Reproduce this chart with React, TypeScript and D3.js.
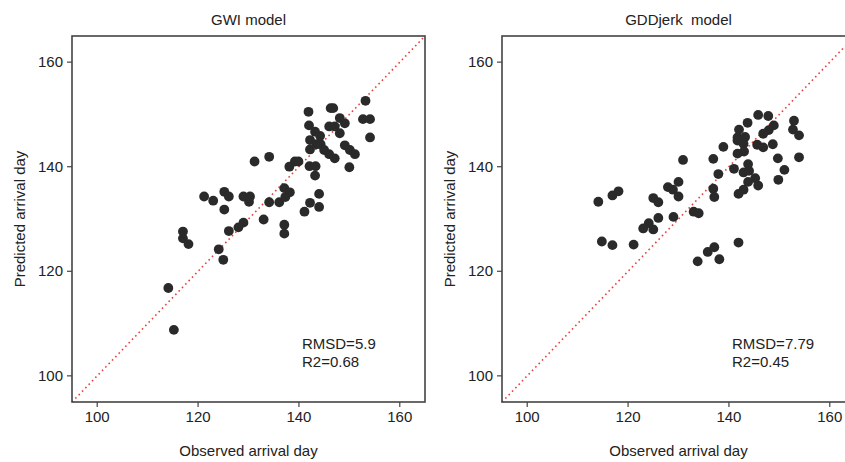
import React from "react";
import * as d3 from "d3";

const gwiObserved = [131.2,134.1,121.2,123.0,125.2,126.1,125.2,129.0,130.3,130.1,134.1,136.1,133.0,129.0,128.0,126.1,117.0,117.0,118.1,124.1,125.0,114.1,115.2,137.1,137.1,153.2,141.9,146.3,146.8,148.1,149.1,152.7,154.1,142.0,146.0,147.1,148.1,143.2,144.2,154.1,142.2,143.5,144.3,142.2,145.0,146.0,147.1,149.1,150.1,151.1,150.0,139.2,139.9,138.1,142.1,143.3,143.2,137.1,138.2,137.3,144.0,142.2,144.0,141.1];
const gwiPredicted = [141.0,141.9,134.3,133.5,135.2,134.3,131.8,134.3,134.3,133.3,133.2,133.2,129.9,129.3,128.4,127.7,127.6,126.3,125.2,124.2,122.2,116.8,108.8,127.2,128.9,152.6,150.5,151.2,151.2,149.3,148.3,149.1,149.1,147.9,147.7,147.7,146.4,146.7,145.9,145.6,145.1,144.3,144.3,143.3,143.2,142.4,141.6,144.1,143.2,142.4,139.9,141.0,141.0,140.0,140.1,140.1,138.3,135.9,135.1,134.2,134.8,133.1,132.3,131.4];

const gddObserved = [130.9,114.1,116.9,118.1,125.0,126.0,127.9,128.9,130.0,130.0,126.0,129.0,124.1,123.0,125.0,133.0,134.0,145.8,147.8,143.7,148.9,147.9,146.8,152.9,152.7,153.9,142.0,141.7,141.7,143.2,142.9,138.9,145.6,146.8,148.7,141.7,143.0,136.9,149.7,153.9,143.8,141.0,142.9,144.0,137.9,151.0,149.8,145.2,143.8,145.8,136.9,137.1,142.9,141.9,114.8,116.9,121.1,133.8,135.8,137.1,138.1,141.9];
const gddPredicted = [141.3,133.3,134.5,135.3,134.0,133.2,136.1,135.6,137.1,134.3,130.2,130.4,129.2,128.2,128.0,131.4,131.1,149.9,149.7,148.4,147.9,147.0,146.3,148.8,147.1,146.0,147.1,145.6,145.0,145.7,144.4,143.8,144.2,143.7,144.3,142.5,142.9,141.5,141.6,141.8,140.5,139.6,138.9,139.2,138.6,139.4,137.5,137.8,137.1,136.4,135.8,134.2,135.6,134.8,125.7,125.0,125.1,121.9,123.7,124.6,122.3,125.5];

const panelTitles = ["GWI model", "GDDjerk\u00a0\u00a0model"];
const statLines = [["RMSD=5.9", "R2=0.68"], ["RMSD=7.79", "R2=0.45"]];
const xTicks = [100, 120, 140, 160];
const yTicks = [100, 120, 140, 160];
const domain: [number, number] = [95, 165];

const FONT = "'Liberation Sans', Arial, sans-serif";
const TXT = "#222";

function Panel({ left, obs, pred, title, stats }: { left: number; obs: number[]; pred: number[]; title: string; stats: string[] }) {
  const right = left + 353;
  const top = 36, bottom = 402;
  const x = d3.scaleLinear().domain(domain).range([left, right]);
  const y = d3.scaleLinear().domain(domain).range([bottom, top]);
  const cx = (left + right) / 2;
  const cy = (top + bottom) / 2;
  return (
    <g>
      <text x={cx} y={25} textAnchor="middle" fontSize={15} fontFamily={FONT} fill={TXT}>{title}</text>
      <line x1={x(domain[0])} y1={y(domain[0])} x2={x(domain[1])} y2={y(domain[1])} stroke="#e5413e" strokeWidth={1.6} strokeDasharray="1.6,3.2" />
      {obs.map((o, i) => (
        <circle key={i} cx={x(o)} cy={y(pred[i])} r={4.9} fill="#2a2a2a" />
      ))}
      <rect x={left} y={top} width={right - left} height={bottom - top} fill="none" stroke="#444" strokeWidth={1.6} />
      {xTicks.map((t) => (
        <g key={"x" + t}>
          <line x1={x(t)} x2={x(t)} y1={bottom} y2={bottom + 5} stroke="#444" strokeWidth={1.2} />
          <text x={x(t)} y={422} textAnchor="middle" fontSize={15} fontFamily={FONT} fill={TXT}>{t}</text>
        </g>
      ))}
      {yTicks.map((t) => (
        <g key={"y" + t}>
          <line x1={left - 5} x2={left} y1={y(t)} y2={y(t)} stroke="#444" strokeWidth={1.2} />
          <text x={left - 9} y={y(t) + 5} textAnchor="end" fontSize={15} fontFamily={FONT} fill={TXT}>{t}</text>
        </g>
      ))}
      <text x={cx} y={456} textAnchor="middle" fontSize={15} fontFamily={FONT} fill={TXT}>Observed arrival day</text>
      <text transform={`translate(${left - 47},${cy}) rotate(-90)`} textAnchor="middle" fontSize={15} fontFamily={FONT} fill={TXT}>Predicted arrival day</text>
      <text x={x(140.6)} y={349} fontSize={15} fontFamily={FONT} fill={TXT}>{stats[0]}</text>
      <text x={x(140.6)} y={367} fontSize={15} fontFamily={FONT} fill={TXT}>{stats[1]}</text>
    </g>
  );
}

export default function App() {
  return (
    <svg width={845} height={462} style={{ position: "absolute", left: 0, top: 0, background: "#fff", overflow: "hidden" }}>
      <rect x={0} y={0} width={845} height={462} fill="#fff" />
      <Panel left={72} obs={gwiObserved} pred={gwiPredicted} title={panelTitles[0]} stats={statLines[0]} />
      <Panel left={502} obs={gddObserved} pred={gddPredicted} title={panelTitles[1]} stats={statLines[1]} />
    </svg>
  );
}
